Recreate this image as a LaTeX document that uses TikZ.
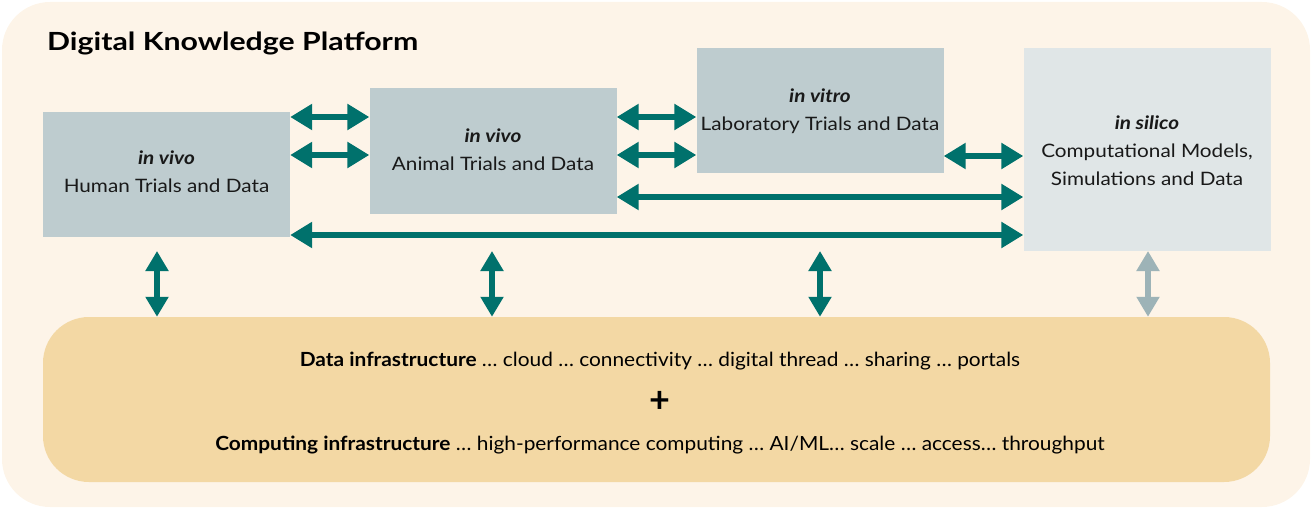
\documentclass[tikz,border=0pt]{standalone}
\usepackage{fontspec}
\setmainfont{Lato}
\newfontfamily\boxfont{Lato}[FakeStretch=1.12]
\newfontfamily\bandfont{Lato}[FakeStretch=1.07]
\newfontfamily\titlefont{Lato}[FakeStretch=1.21]
\usetikzlibrary{arrows.meta}
\definecolor{cream}{HTML}{FDF4E8}
\definecolor{slate}{HTML}{BECCCF}
\definecolor{paleslate}{HTML}{E0E6E7}
\definecolor{sand}{HTML}{F3D8A4}
\definecolor{teal}{HTML}{00716C}
\definecolor{greyteal}{HTML}{9DB3B7}
\tikzset{
  trialbox/.style={fill=slate, draw=none, minimum width=247pt, inner sep=0pt},
  boxtext/.style={align=center, inner sep=0pt, text=black!90,
    font=\boxfont\fontsize{18.5}{28}\selectfont},
  bandtext/.style={inner sep=0pt, font=\bandfont\fontsize{19.5}{22}\selectfont},
  link/.style={draw=teal, line width=6.5pt,
    {Triangle[length=22pt,width=25pt]}-{Triangle[length=22pt,width=25pt]}},
  uplink/.style={draw=teal, line width=6.5pt,
    {Triangle[length=20pt,width=22pt]}-{Triangle[length=20pt,width=22pt]}},
}
\begin{document}
\begin{tikzpicture}[x=1pt,y=-1pt]
  \useasboundingbox (0,0) rectangle (1312,508);
  % platform background
  \fill[cream, rounded corners=48pt] (2,2) rectangle (1310,507);
  \node[anchor=west, font=\titlefont\bfseries\fontsize{25}{28}\selectfont, inner sep=0pt]
    (title) at (47,43) {Digital Knowledge Platform};

  % the four trial / model boxes
  \node[trialbox, minimum height=125pt] (human) at (166.5,174.5) {};
  \node[trialbox, minimum height=126pt] (animal) at (493,151) {};
  \node[trialbox, minimum height=125pt] (lab) at (820,110.5) {};
  \node[trialbox, fill=paleslate, minimum height=203pt] (silico) at (1147,149.5) {};
  \node[boxtext] (humantxt) at ([yshift=3pt]human.center)
    {\textbf{\textit{in vivo}}\\Human Trials and Data};
  \node[boxtext] (animaltxt) at ([yshift=1pt]animal.center)
    {\textbf{\textit{in vivo}}\\Animal Trials and Data};
  \node[boxtext] (labtxt) at ([yshift=-1pt]lab.center)
    {\textbf{\textit{in vitro}}\\Laboratory Trials and Data};
  \node[boxtext] (silicotxt) at ([yshift=-1pt]silico.center)
    {\textbf{\textit{in silico}}\\Computational Models,\\Simulations and Data};

  % infrastructure band
  \fill[sand, rounded corners=46pt] (43,317) rectangle (1270,482);
  \node[draw=none, minimum width=1227pt, minimum height=165pt] (infra) at (656.5,399.5) {};
  \node[bandtext] (data) at (660,361)
    {\textbf{Data infrastructure} \ldots\ cloud \ldots\ connectivity \ldots\ digital thread \ldots\ sharing \ldots\ portals};
  \node[font=\bfseries\fontsize{36}{36}\selectfont, inner sep=0pt] (plus) at (660,402) {+};
  \node[bandtext] (comp) at (660,445)
    {\textbf{Computing infrastructure} \ldots\ high-performance computing \ldots\ AI/ML\ldots\ scale \ldots\ access\ldots\ throughput};

  % horizontal links between the boxes
  \draw[link] (human.east |- 0,117) -- (animal.west |- 0,117);
  \draw[link] (human.east |- 0,155) -- (animal.west |- 0,155);
  \draw[link] (animal.east |- 0,117) -- (lab.west |- 0,117);
  \draw[link] (animal.east |- 0,155) -- (lab.west |- 0,155);
  \draw[link] (lab.east |- 0,156) -- (silico.west |- 0,156);
  \draw[link] (animal.east |- 0,197) -- (silico.west |- 0,197);
  \draw[link] (human.east |- 0,235) -- (silico.west |- 0,235);

  % vertical links down to the infrastructure
  \coordinate (v1) at (157,251);
  \coordinate (v2) at (492,251);
  \coordinate (v3) at (820,251);
  \coordinate (v4) at (1148,251);
  \draw[uplink] (v1) -- (v1 |- infra.north);
  \draw[uplink] (v2) -- (v2 |- infra.north);
  \draw[uplink] (v3) -- (v3 |- infra.north);
  \draw[uplink, draw=greyteal] (v4) -- (v4 |- infra.north);
\end{tikzpicture}
\end{document}
